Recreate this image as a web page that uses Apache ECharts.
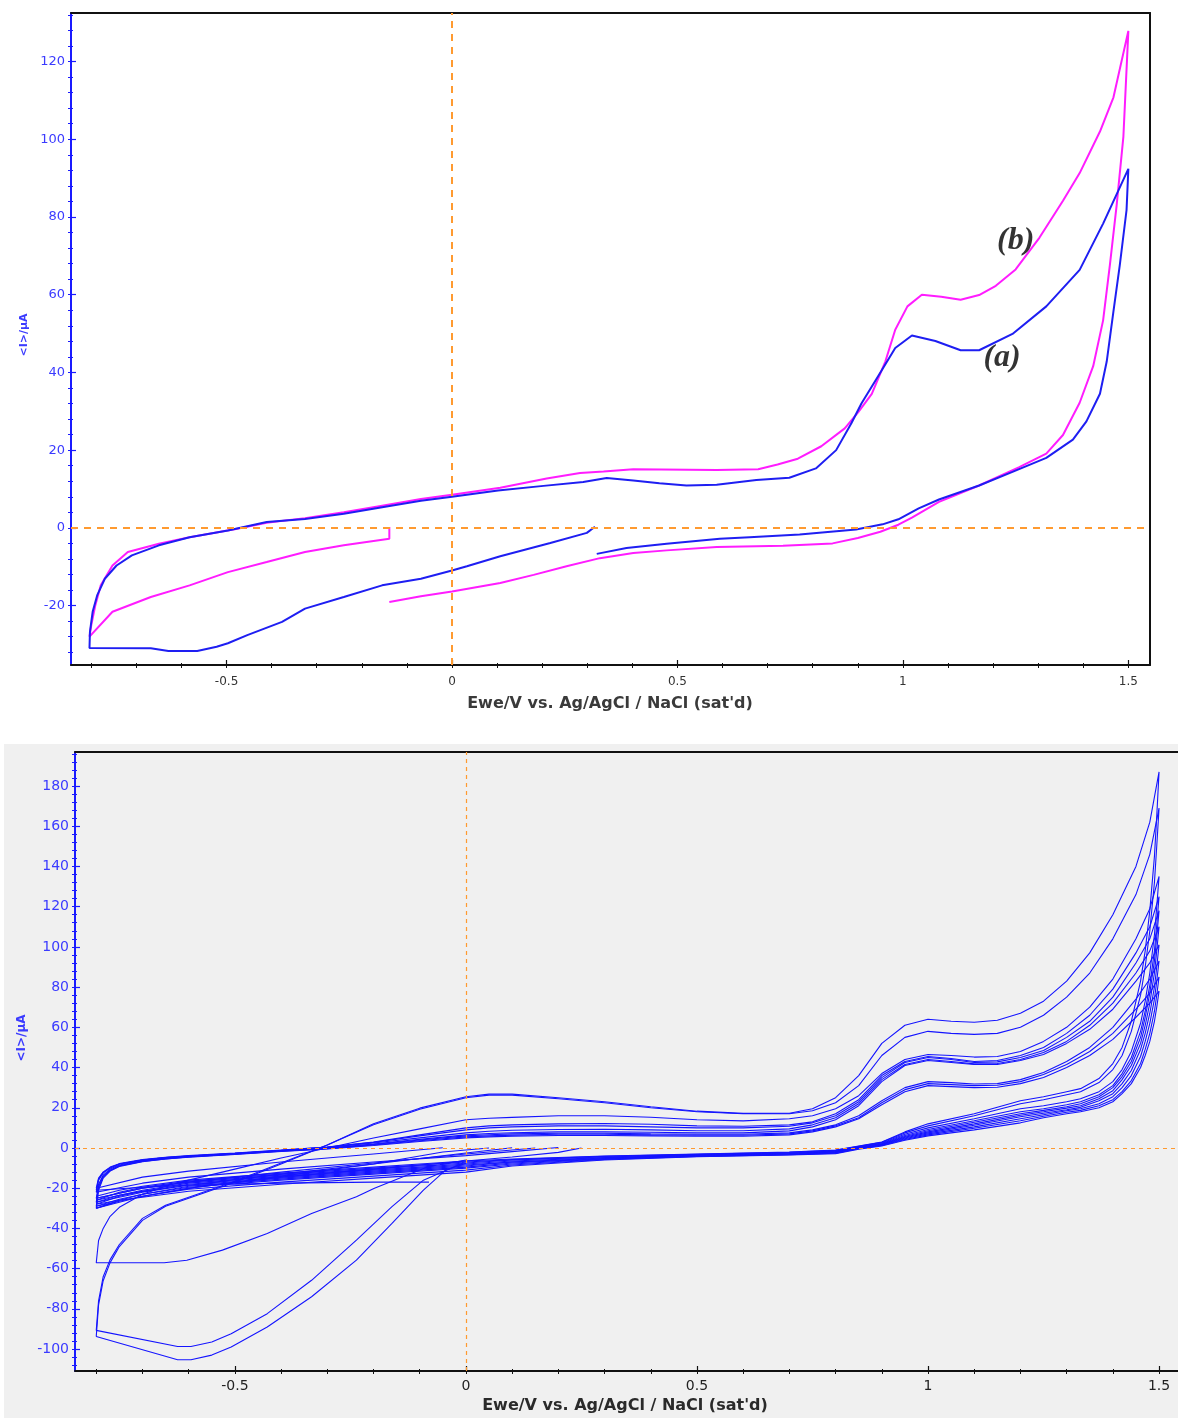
<!DOCTYPE html>
<html>
<head>
<meta charset="utf-8">
<script src="https://cdn.jsdelivr.net/npm/echarts@6/dist/echarts.min.js"></script>
<style>
  html, body { margin: 0; padding: 0; background: #ffffff; }
  #chart { width: 1178px; height: 1418px; }
</style>
</head>
<body>
<div id="chart"></div>
<script>
// ---------- Upper voltammogram: curves (a) and (b), [E / V, I / µA] ----------
const curveA = [
  [0.317,0.3],[0.317,0],[0.299,-1.3],[0.218,-3.9],[0.107,-7.3],[0.033,-9.9],[0,-11],[-0.069,-13.1],[-0.155,-14.8],
  [-0.24,-17.8],[-0.326,-20.8],[-0.377,-24.2],[-0.454,-27.6],[-0.497,-29.7],[-0.522,-30.6],[-0.565,-31.7],[-0.629,-31.7],
  [-0.668,-31],[-0.804,-30.9],
  [-0.803,-26.8],[-0.797,-21.6],[-0.787,-17.4],[-0.77,-13.1],[-0.744,-9.7],[-0.71,-7.1],[-0.65,-4.5],[-0.582,-2.4],
  [-0.497,-0.7],[-0.411,1.5],[-0.326,2.3],[-0.24,3.6],[-0.155,5.3],[-0.069,7],[0,8],[0.102,9.6],[0.203,10.8],[0.291,11.8],
  [0.343,12.8],[0.402,12.2],[0.46,11.5],[0.52,10.9],[0.587,11.1],[0.675,12.3],[0.748,12.9],[0.807,15.3],[0.852,20],
  [0.886,27],[0.908,32],[0.946,39.2],[0.983,46.3],[1.02,49.5],[1.072,48.1],[1.128,45.7],[1.169,45.7],[1.243,49.9],
  [1.318,57],[1.392,66.4],[1.444,78.3],[1.5,92.4],
  [1.496,81.8],[1.481,67.6],[1.467,55.8],[1.452,42.8],[1.437,34.5],[1.407,27.4],[1.377,22.7],[1.318,18],[1.243,14.4],
  [1.169,10.9],[1.08,7.3],[1.035,5],[0.99,2.2],[0.955,0.9],[0.896,-0.4],[0.771,-1.7],[0.66,-2.4],[0.594,-2.8],
  [0.476,-4.1],[0.387,-5.2],[0.321,-6.7]
];
const curveB = [
  [-0.139,0.2],[-0.139,-2.8],[-0.24,-4.5],[-0.326,-6.2],[-0.411,-8.8],[-0.497,-11.4],[-0.582,-14.8],[-0.668,-17.8],
  [-0.753,-21.6],[-0.804,-28],
  [-0.8,-25],[-0.791,-19.9],[-0.779,-14.8],[-0.753,-9.7],[-0.719,-6.2],[-0.65,-4.1],[-0.582,-2.4],[-0.479,-0.3],
  [-0.411,1.3],[-0.326,2.5],[-0.24,4],[-0.155,5.7],[-0.069,7.4],[0,8.5],[0.107,10.3],[0.21,12.7],[0.284,14.1],
  [0.336,14.5],[0.402,15.1],[0.587,14.9],[0.679,15.1],[0.722,16.3],[0.767,17.8],[0.819,21],[0.871,25.6],[0.901,29.8],
  [0.931,34.5],[0.961,42.8],[0.983,51],[1.01,57],[1.042,60],[1.085,59.5],[1.128,58.7],[1.169,59.9],[1.206,62.3],
  [1.25,66.5],[1.303,74.7],[1.355,84.2],[1.392,91.3],[1.437,102],[1.467,110.8],[1.5,127.9],
  [1.489,100.7],[1.474,83],[1.459,67.6],[1.444,53.4],[1.422,41.6],[1.392,32.2],[1.355,23.9],[1.318,19.1],[1.258,15.6],
  [1.169,10.9],[1.08,6.7],[1.02,2.6],[0.99,0.8],[0.95,-1],[0.9,-2.6],[0.844,-4],[0.734,-4.6],[0.587,-4.9],[0.476,-5.8],
  [0.402,-6.5],[0.328,-7.8],[0.254,-9.9],[0.181,-12.1],[0.107,-14.2],[0,-16.4],[-0.069,-17.6],[-0.139,-19.1]
];
// label anchors for the two curves
const tagA = [1.22, 43.7];
const tagB = [1.25, 73.9];

// ---------- Lower voltammogram: repeated cycles ----------
// potentials of the anodic (forward) and cathodic (reverse) sweeps
const fwdE = [-0.8,-0.795,-0.785,-0.77,-0.75,-0.7,-0.65,-0.6,-0.5,-0.4,-0.3,-0.2,-0.1,0,0.05,0.1,0.2,0.3,0.4,0.5,
              0.6,0.7,0.75,0.8,0.85,0.9,0.95,1.0,1.05,1.1,1.15,1.2,1.25,1.3,1.35,1.4,1.45,1.48,1.5];
const revE = [1.5,1.495,1.49,1.48,1.47,1.46,1.44,1.42,1.4,1.37,1.33,1.3,1.25,1.2,1.1,1.0,0.95,0.9,0.85,0.8,
              0.7,0.5,0.3,0.1,0,-0.1,-0.2,-0.4,-0.6,-0.7,-0.75,-0.8];

// initial cathodic sweeps [E, I]
const start1 = [[0,-7.6],[-0.044,-11],[-0.092,-21],[-0.16,-37.5],[-0.237,-55.8],[-0.334,-74],[-0.43,-89],[-0.508,-99],
                [-0.55,-103],[-0.595,-105.3],[-0.624,-105.3],[-0.8,-93.7]];
const start2 = [[0,-6.8],[-0.092,-16],[-0.16,-29.2],[-0.237,-45.8],[-0.334,-65.8],[-0.43,-82.4],[-0.508,-92.4],
                [-0.55,-96.5],[-0.595,-98.7],[-0.624,-98.7],[-0.8,-90.7]];
const start3 = [[0,-6],[-0.082,-9.3],[-0.198,-20],[-0.237,-24.3],[-0.334,-32.6],[-0.43,-42.5],[-0.527,-50.8],
                [-0.604,-55.8],[-0.653,-57.1],[-0.8,-57.1]];
const start4 = [[0.2,0.2],[0.1,-1.8],[0,-3.8],[-0.2,-7],[-0.4,-10.5],[-0.6,-14.5],[-0.7,-17.5],[-0.8,-22]];
const start5 = [[-0.05,0.1],[-0.2,-3],[-0.4,-7],[-0.6,-11.5],[-0.7,-14.5],[-0.8,-20]];
const start6 = [[0.15,0],[0,-3],[-0.2,-7.5],[-0.4,-12],[-0.6,-17],[-0.7,-20],[-0.8,-25]];
const start7 = [[-0.08,-17],[-0.2,-17],[-0.4,-17.5],[-0.6,-18.5],[-0.7,-19.5],[-0.8,-21]];
const start8 = [[0.1,0.1],[0,-2.5],[-0.2,-8],[-0.4,-13],[-0.6,-18.5],[-0.7,-22],[-0.8,-27]];
const start9 = [[0.05,0],[-0.05,-2],[-0.2,-8],[-0.4,-14],[-0.6,-20],[-0.7,-24],[-0.8,-29]];
const start10 = [[0.25,0],[0.2,-2.2],[0.1,-4.5],[0,-6.5],[-0.2,-10.5],[-0.4,-14.5],[-0.6,-20],[-0.7,-24],[-0.8,-30]];

// anodic sweep currents (µA) at fwdE
const fwd1 = [-93.7,-78,-66,-57,-49,-36,-29,-25,-17,-8,1.5,12,19.8,25.5,26.8,26.8,25,23,20.5,18.3,
              17.2,17.3,19.5,25,36,52,61,64,63,62.5,63.5,67,73,83,97,116,140,162,187];
const fwd2 = [-90.7,-76,-64,-55.5,-48,-35,-28.5,-24.5,-16.5,-7.5,1.5,11.5,19.3,25,26.3,26.3,24.5,22.5,20,18,
              17,17,18.5,22.5,31,46,55,58,57,56.5,57,60,66,75,87,104,126,146,169];
const fwd3 = [-57.1,-46,-40,-34,-29.5,-23,-19,-16,-10.5,-5,0,5,9.5,14,14.8,15.2,16,16,15.3,14,
              13.5,14.5,16,19.5,26,37,44,46.5,46,45.2,45.5,48,53,60,70,84,104,119,135];
const fwd4 = [-22,-16,-12.5,-10,-8,-6,-4.8,-4,-2.7,-1.2,0.5,3,6.5,10,11,11.5,12,12.2,11.8,11,
              10.8,11.5,13,17,24,36,43,45.5,44.5,43,43.5,46,50,57,66,79,97,110,125];
const fwd5 = [-20,-15,-12,-9.5,-7.8,-5.8,-4.6,-3.8,-2.5,-1,0.5,2.8,6,9,10,10.5,11,11,10.5,10,
              10,10.8,12.5,16,23,35,42.5,45,44,42.5,42.8,45,48.5,55,63,75,92,104,118];
const fwd6 = [-25,-18,-13.5,-10.5,-8.5,-6.3,-5,-4.2,-2.8,-1.3,0.3,2.5,5,7.5,8.3,8.8,9.2,9.3,9,8.6,
              8.6,9.5,11.5,15,22,34,41.5,44,43,41.8,42,44,47.5,53,61,72,87,98,110];
const fwd7 = [-21,-15.5,-12,-9.8,-8,-6,-4.8,-4,-2.8,-1.4,0,2,4.3,6.5,7.2,7.6,8,8,7.8,7.5,
              7.5,8.5,10.5,14,21,33,41,43.5,42.5,41.5,41.5,43.5,46.5,52,59,69,83,92,101];
const fwd8 = [-27,-19,-14,-11,-8.8,-6.5,-5.2,-4.3,-3,-1.5,-0.2,1.8,4,6,6.6,7,7.3,7.3,7,6.8,
              6.8,7.5,9,11.5,16,23.5,30,33,32.5,31.8,32,34,37.5,43,50,60,74,84,93];
const fwd9 = [-29,-20,-14.5,-11.3,-9,-6.7,-5.4,-4.5,-3.1,-1.6,-0.3,1.5,3.6,5.5,6,6.4,6.8,6.8,6.5,6.3,
              6.3,7,8.5,11,15,22.5,29,32,31.5,31,31.2,33,36.5,41.5,48,57,69,77,85];
const fwd10 = [-30,-21,-15,-11.5,-9.2,-6.8,-5.5,-4.6,-3.2,-1.7,-0.5,1.2,3.2,5,5.5,5.9,6.2,6.2,6,5.8,
               5.8,6.5,8,10.5,14.5,21.5,28,31,30.5,30,30.2,32,35,40,46,54,65,72,78];

// cathodic return currents (µA) at revE
const rev1 = [187,165,145,118,98,83,63,50,42,34.5,29.5,28,25.5,23.5,17,12,8,3,1,-1,
              -2,-3,-4,-5.5,-6.5,-8,-9.5,-12.5,-16,-19,-21,-24];
const rev2 = [169,150,132,108,90,76,58,46,39,32.5,28,26.5,24,22,16,11,7.5,2.8,0.8,-1.2,
              -2.2,-3.2,-4.2,-5.8,-7,-8.5,-10,-13,-16.5,-19.5,-22,-26];
const rev3 = [135,120,106,87,73,62,48,39,33,28,24.5,23,21,19.5,14.5,10,6.8,2.5,0.6,-1.5,
              -2.5,-3.3,-4.5,-6,-7.5,-9,-10.5,-13.5,-17,-20,-22.5,-25];
const rev4 = [125,111,98,81,68,58,45,37,31,26.5,23,21.5,19.5,18,13.5,9.2,6.2,2.2,0.4,-1.6,
              -2.6,-3.5,-4.8,-6.5,-8,-9.5,-11,-14,-17.5,-21,-23.5,-27];
const rev5 = [118,105,93,77,65,55,43,35.5,30,25.5,22,20.5,18.7,17,12.8,8.6,5.7,2,0.3,-1.8,
              -2.8,-3.7,-5,-7,-8.5,-10,-11.5,-14.5,-18,-21.5,-24,-28];
const rev6 = [110,98,87,72,61,52,41,34,28.5,24.5,21,19.8,18,16.3,12,8,5.3,1.8,0.2,-2,
              -3,-3.8,-5.2,-7.5,-9.5,-11,-12.5,-15.5,-19,-23,-26,-30];
const rev7 = [101,90,80,67,57,49,38.5,32,27,23.5,20.2,19,17.3,15.5,11.3,7.5,5,1.6,0,-2.2,
              -3.1,-4,-5.5,-8,-10,-11.5,-13,-16,-19.5,-23,-25.5,-29];
const rev8 = [93,83,74,62,53,45.5,36,30,25.5,22,19.5,18.5,16.5,14.5,10.5,7,4.6,1.4,-0.2,-2.4,
              -3.2,-4.1,-5.5,-7,-9,-10.5,-12,-15,-18.5,-21.5,-23.5,-26];
const rev9 = [85,76,68,57,49,42,33.5,28,24,21,18.7,17.8,15.8,13.5,9.8,6.5,4.2,1.2,-0.4,-2.6,
              -3.4,-4.2,-5.7,-8.5,-11,-12.5,-14,-17,-20.5,-24,-26.5,-30];
const rev10 = [78,70,63,53,46,40,32,27,23,20,18,17,15,12.5,9,6,3.8,1,-0.6,-2.8,
               -3.5,-4.4,-6,-9,-12,-13.5,-15,-18,-21.5,-24.5,-26,-28];

// ---------- axis tick labels ----------
const xLabels = [-0.5, 0, 0.5, 1, 1.5];
const yLabelsTop = [-20, 0, 20, 40, 60, 80, 100, 120];
const yLabelsBottom = [-100, -80, -60, -40, -20, 0, 20, 40, 60, 80, 100, 120, 140, 160, 180];

function ticks(from, to, step, scale) {
  const out = [];
  for (let k = from; k <= to; k++) out.push(k * step / scale);
  return out;
}
const xMinor = ticks(-8, 15, 1, 10);        // every 0.1 V
const yMinorTop = ticks(-8, 33, 4, 1);      // every 4 µA
const yMinorBottom = ticks(-27, 49, 4, 1);  // every 4 µA

function zip(E, I) { return E.map((e, i) => [e, I[i]]); }
function cycle(start, fwd, rev) { return start.concat(zip(fwdE, fwd), zip(revE, rev).slice(1)); }

const lowerCycles = [
  cycle(start1, fwd1, rev1), cycle(start2, fwd2, rev2), cycle(start3, fwd3, rev3),
  cycle(start4, fwd4, rev4), cycle(start5, fwd5, rev5), cycle(start6, fwd6, rev6),
  cycle(start7, fwd7, rev7), cycle(start8, fwd8, rev8), cycle(start9, fwd9, rev9),
  cycle(start10, fwd10, rev10)
];

const FONT = '"DejaVu Sans", Verdana, sans-serif';
const BLUE_TXT = '#3b3bff';

// four stacked axes per dimension: main (line/outer ticks/labels), inner minor ticks, inner major ticks, frame side
function axisSet(dim, gridIndex, r, st) {
  const base = { type: 'value', gridIndex, min: r.min, max: r.max, splitLine: { show: false }, axisPointer: { show: false } };
  const pos = dim === 'x' ? 'bottom' : 'left';
  const opp = dim === 'x' ? 'top' : 'right';
  return [
    Object.assign({}, base, {
      position: pos,
      axisLine: { show: true, onZero: false, lineStyle: { color: st.line, width: 2 } },
      axisTick: { show: true, customValues: r.minor, length: 3, lineStyle: { color: st.line, width: 1 } },
      axisLabel: { show: true, customValues: r.major, color: st.label, fontSize: st.fs, fontFamily: FONT, margin: st.margin }
    }),
    Object.assign({}, base, {
      position: pos,
      axisLine: { show: false, onZero: false },
      axisTick: { show: true, inside: true, customValues: r.minor, length: 2, lineStyle: { color: st.line, width: 1 } },
      axisLabel: { show: false }
    }),
    Object.assign({}, base, {
      position: pos,
      axisLine: { show: false, onZero: false },
      axisTick: { show: true, inside: true, customValues: r.major, length: 5, lineStyle: { color: st.line, width: 1.2 } },
      axisLabel: { show: false }
    }),
    Object.assign({}, base, {
      position: opp,
      axisLine: { show: st.frame, onZero: false, lineStyle: { color: '#111', width: 2 } },
      axisTick: { show: false },
      axisLabel: { show: false }
    })
  ];
}

const xAxes = [].concat(
  axisSet('x', 0, { min: -0.845, max: 1.548, minor: xMinor, major: xLabels },
          { line: '#111', label: '#333', fs: 12, margin: 11, frame: true }),
  axisSet('x', 1, { min: -0.846, max: 1.541, minor: xMinor, major: xLabels },
          { line: '#111', label: '#222', fs: 14, margin: 8, frame: true })
);
const yAxes = [].concat(
  axisSet('y', 0, { min: -35.3, max: 132.5, minor: yMinorTop, major: yLabelsTop },
          { line: '#1a1aff', label: BLUE_TXT, fs: 13, margin: 6, frame: true }),
  axisSet('y', 1, { min: -110.9, max: 196.9, minor: yMinorBottom, major: yLabelsBottom },
          { line: '#1a1aff', label: BLUE_TXT, fs: 14, margin: 6, frame: false })
);

const zeroLines = (dash, width) => ({
  silent: true, symbol: 'none', label: { show: false },
  lineStyle: { color: '#ff9a30', type: dash, width: width },
  emphasis: { disabled: true },
  data: [{ xAxis: 0 }, { yAxis: 0 }]
});

const tagLabel = (text) => ({
  show: true, position: 'inside', formatter: text, color: '#000000',
  fontSize: 32, fontStyle: 'italic', fontWeight: 'bold', fontFamily: '"Liberation Serif", "DejaVu Serif", serif'
});

const series = [
  { type: 'line', name: '(b)', xAxisIndex: 0, yAxisIndex: 0, data: curveB, symbol: 'none',
    lineStyle: { color: '#ff1cff', width: 2 }, z: 3 },
  { type: 'line', name: '(a)', xAxisIndex: 0, yAxisIndex: 0, data: curveA, symbol: 'none',
    lineStyle: { color: '#1e1ef2', width: 2 }, z: 4, markLine: zeroLines([7, 6], 2) },
  { type: 'scatter', xAxisIndex: 0, yAxisIndex: 0, data: [tagA], symbolSize: 1,
    itemStyle: { color: 'rgba(0,0,0,0)' }, label: tagLabel('(a)'), z: 6 },
  { type: 'scatter', xAxisIndex: 0, yAxisIndex: 0, data: [tagB], symbolSize: 1,
    itemStyle: { color: 'rgba(0,0,0,0)' }, label: tagLabel('(b)'), z: 6 }
];
lowerCycles.forEach((d, i) => {
  const s = { type: 'line', xAxisIndex: 4, yAxisIndex: 4, data: d, symbol: 'none',
              lineStyle: { color: '#1414ff', width: 1.1 }, z: 3 };
  if (i === 0) s.markLine = zeroLines([4, 4], 1.2);
  series.push(s);
});

const chart = echarts.init(document.getElementById('chart'), null, { renderer: 'canvas' });
chart.setOption({
  animation: false,
  backgroundColor: '#ffffff',
  grid: [
    { left: 71, top: 13, width: 1079, height: 652, containLabel: false },
    { left: 75, top: 752, width: 1103, height: 619, containLabel: false }
  ],
  xAxis: xAxes,
  yAxis: yAxes,
  graphic: [
    { type: 'rect', z: -100, silent: true, shape: { x: 4, y: 744, width: 1174, height: 674 }, style: { fill: '#f0f0f0' } },
    { type: 'text', x: 610, y: 704, silent: true,
      style: { text: "Ewe/V vs. Ag/AgCl / NaCl (sat'd)", font: 'bold 16px ' + FONT, fill: '#3a3a3a', align: 'center', verticalAlign: 'middle' } },
    { type: 'text', x: 625, y: 1406, silent: true,
      style: { text: "Ewe/V vs. Ag/AgCl / NaCl (sat'd)", font: 'bold 16px ' + FONT, fill: '#2a2a2a', align: 'center', verticalAlign: 'middle' } },
    { type: 'text', x: 24, y: 335, rotation: Math.PI / 2, silent: true,
      style: { text: '<I>/µA', font: 'bold 11px ' + FONT, fill: BLUE_TXT, align: 'center', verticalAlign: 'middle' } },
    { type: 'text', x: 22, y: 1038, rotation: Math.PI / 2, silent: true,
      style: { text: '<I>/µA', font: 'bold 12px ' + FONT, fill: BLUE_TXT, align: 'center', verticalAlign: 'middle' } }
  ],
  series: series
});
</script>
</body>
</html>
